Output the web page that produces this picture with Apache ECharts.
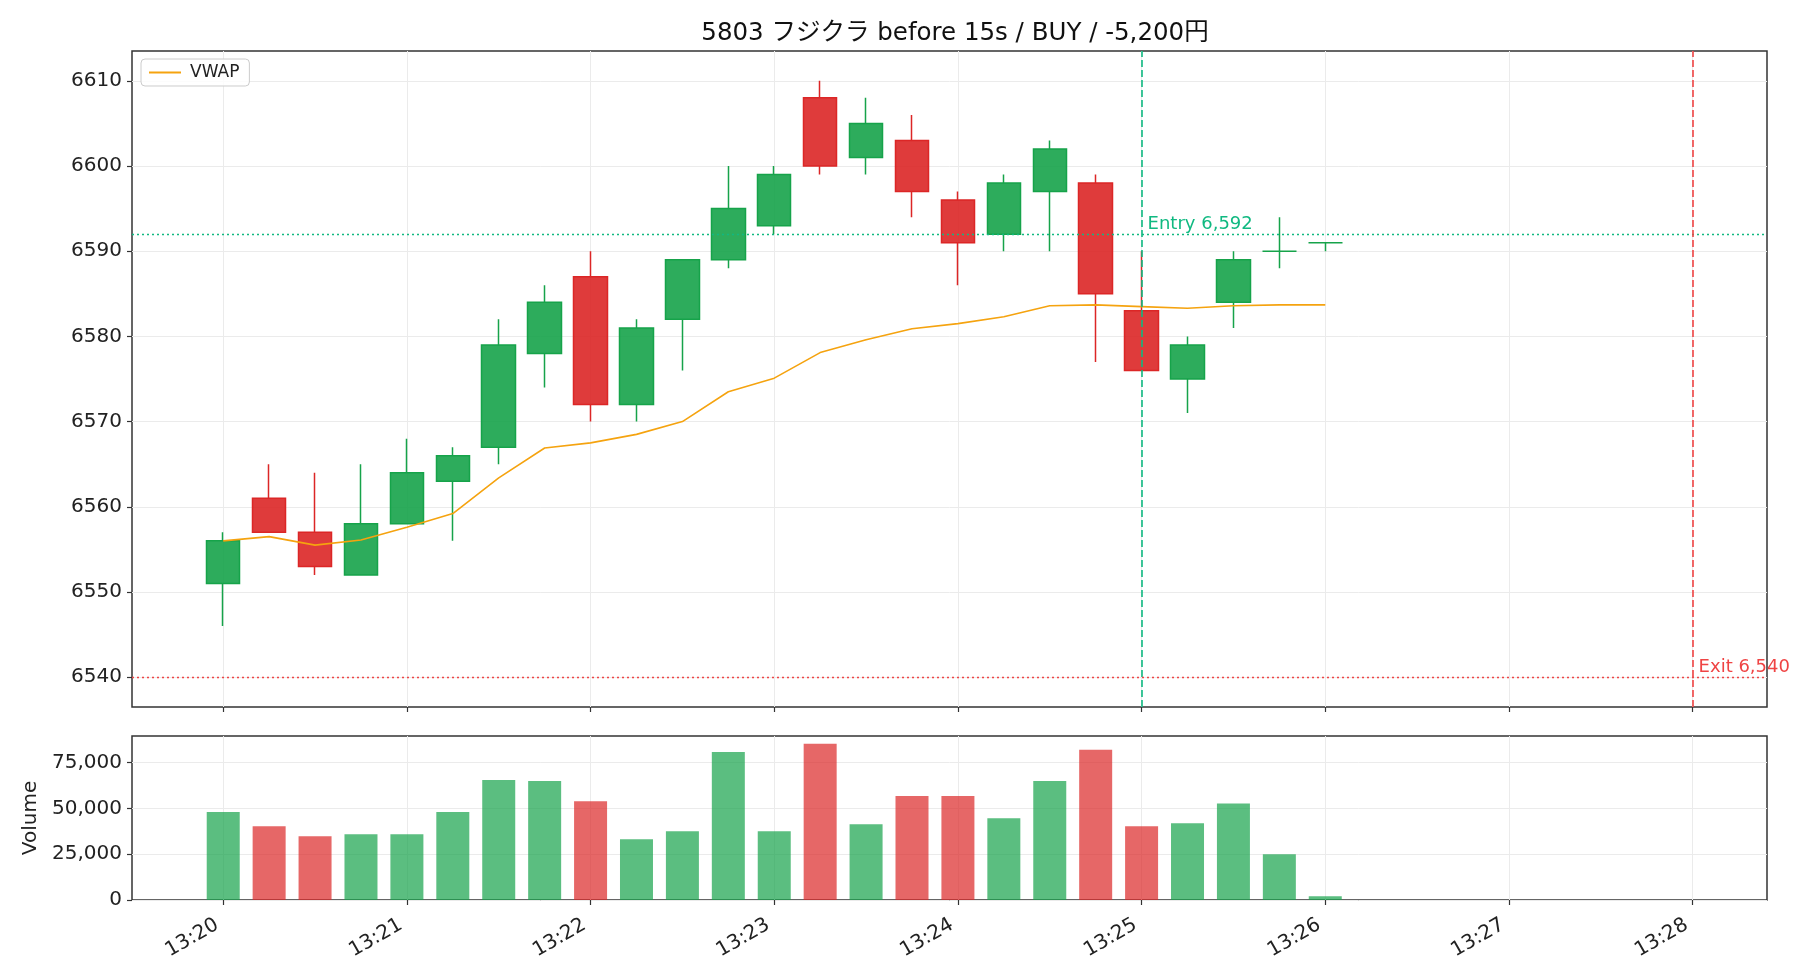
<!DOCTYPE html>
<html>
<head>
<meta charset="utf-8">
<title>5803 フジクラ</title>
<script src="https://cdn.jsdelivr.net/npm/echarts@6/dist/echarts.min.js"></script>
<style>
  html, body { margin: 0; padding: 0; background: #fff; }
  #chart { width: 1820px; height: 980px; }
</style>
</head>
<body>
<div id="chart"></div>
<script>
// 15秒足
var times = ["13:20:00", "13:20:15", "13:20:30", "13:20:45", "13:21:00", "13:21:15", "13:21:30", "13:21:45",
  "13:22:00", "13:22:15", "13:22:30", "13:22:45", "13:23:00", "13:23:15", "13:23:30", "13:23:45",
  "13:24:00", "13:24:15", "13:24:30", "13:24:45", "13:25:00", "13:25:15", "13:25:30", "13:25:45", "13:26:00"];
var open = [6551, 6561, 6557, 6552, 6558, 6563, 6567, 6578, 6587, 6572, 6582, 6589, 6593, 6608, 6601, 6603,
  6596, 6592, 6597, 6598, 6583, 6575, 6584, 6590, 6591];
var close = [6556, 6557, 6553, 6558, 6564, 6566, 6579, 6584, 6572, 6581, 6589, 6595, 6599, 6600, 6605, 6597,
  6591, 6598, 6602, 6585, 6576, 6579, 6589, 6590, 6591];
var low = [6546, 6557, 6552, 6552, 6558, 6556, 6565, 6574, 6570, 6570, 6576, 6588, 6592, 6599, 6599, 6594,
  6586, 6590, 6590, 6577, 6576, 6571, 6581, 6588, 6590];
var high = [6557, 6565, 6564, 6565, 6568, 6567, 6582, 6586, 6590, 6582, 6589, 6600, 6600, 6610, 6608, 6606,
  6597, 6599, 6603, 6599, 6590, 6580, 6590, 6594, 6591];
var vwap = [6556.0, 6556.5, 6555.5, 6556.1, 6557.6, 6559.2, 6563.4, 6566.9, 6567.5, 6568.5, 6570.0, 6573.5,
  6575.1, 6578.1, 6579.6, 6580.9, 6581.5, 6582.3, 6583.6, 6583.7, 6583.5, 6583.3, 6583.6, 6583.7, 6583.7];
var volume = [48000, 40200, 34800, 35900, 35900, 48000, 65500, 64900, 53900, 33100, 37500, 80800, 37500,
  85200, 41300, 56700, 56700, 44600, 64900, 81900, 40200, 41800, 52700, 24900, 2000];

var timeTicks = ["13:20", "13:21", "13:22", "13:23", "13:24", "13:25", "13:26", "13:27", "13:28"];
var priceTicks = [6540, 6550, 6560, 6570, 6580, 6590, 6600, 6610];
var volumeTicks = [0, 25000, 50000, 75000];

var entryTime = "13:25:00", entryPrice = 6592;
var exitTime = "13:28:00", exitPrice = 6540;

var UP = "#16a34a", DOWN = "#dc2626";
var ENTRY = "#10b981", EXIT = "#ef4444";
var FONT = "'DejaVu Sans', 'Noto Sans CJK JP', sans-serif";

// 13:20:00 からの秒数
function sec(t) {
  var p = t.split(":");
  return (+p[0] - 13) * 3600 + (+p[1] - 20) * 60 + (p[2] ? +p[2] : 0);
}
function fmtTime(v) {
  var m = 20 + Math.round(v / 60);
  return "13:" + (m < 10 ? "0" + m : m);
}
function comma(v) {
  return String(v).replace(/\B(?=(\d{3})+(?!\d))/g, ",");
}

var xs = times.map(sec);
var xTickVals = timeTicks.map(sec);
var candles = xs.map(function (x, i) {
  return [x, open[i], close[i], low[i], high[i]];
});
var vwapData = xs.map(function (x, i) { return [x, vwap[i]]; });
var volData = xs.map(function (x, i) {
  var up = close[i] >= open[i];
  return { value: [x, volume[i]], itemStyle: { color: up ? UP : DOWN, opacity: 0.7 } };
});

var gridLine = { show: true, lineStyle: { color: "#ebebeb", width: 1 } };
var tickStyle = { show: true, length: 5, lineStyle: { color: "#333", width: 1.2 } };
var labelStyle = { color: "#222", fontSize: 20, fontFamily: FONT };
var noLine = { show: false, onZero: false };

var myChart = echarts.init(document.getElementById("chart"));
var option = {
  animation: false,
  backgroundColor: "#fff",
  title: {
    text: "5803 フジクラ before 15s / BUY / -5,200円",
    left: 950,
    top: 16,
    textAlign: "center",
    textStyle: { fontSize: 24.5, fontWeight: "normal", color: "#111", fontFamily: FONT },
  },
  legend: {
    left: 141,
    top: 59,
    data: [{ name: "VWAP", icon: "rect" }],
    itemWidth: 32,
    itemHeight: 2,
    itemGap: 10,
    padding: [5, 10, 5, 8],
    backgroundColor: "rgba(255,255,255,0.85)",
    borderColor: "#cccccc",
    borderWidth: 1,
    borderRadius: 4,
    textStyle: { fontSize: 17, color: "#222", fontFamily: FONT, padding: [0, 0, 0, 4] },
  },
  grid: [
    { left: 132, right: 53, top: 51, height: 656, show: true, borderColor: "#333", borderWidth: 1.5, backgroundColor: "transparent" },
    { left: 132, right: 53, top: 736, height: 164, show: true, borderColor: "#333", borderWidth: 1.5, backgroundColor: "transparent" },
  ],
  xAxis: [
    {
      type: "value",
      gridIndex: 0,
      min: -29.8,
      max: 504.3,
      axisLine: noLine,
      axisTick: Object.assign({ customValues: xTickVals }, tickStyle),
      axisLabel: { show: false, customValues: xTickVals },
      splitLine: gridLine,
    },
    {
      type: "value",
      gridIndex: 1,
      min: -29.8,
      max: 504.3,
      axisLine: noLine,
      axisTick: Object.assign({ customValues: xTickVals }, tickStyle),
      axisLabel: Object.assign({ customValues: xTickVals, rotate: 30, margin: 20, padding: [0, 7, 0, 0], formatter: fmtTime }, labelStyle),
      splitLine: gridLine,
    },
  ],
  yAxis: [
    {
      type: "value",
      gridIndex: 0,
      min: 6536.5,
      max: 6613.5,
      axisLine: noLine,
      axisTick: Object.assign({ customValues: priceTicks }, tickStyle),
      axisLabel: Object.assign({ customValues: priceTicks, margin: 10, formatter: function (v) { return String(v); } }, labelStyle),
      splitLine: gridLine,
    },
    {
      type: "value",
      gridIndex: 1,
      min: 0,
      max: 89460,
      name: "Volume",
      nameLocation: "middle",
      nameGap: 91,
      nameTextStyle: { fontSize: 20, color: "#222", fontFamily: FONT },
      axisLine: noLine,
      axisTick: Object.assign({ customValues: volumeTicks }, tickStyle),
      axisLabel: Object.assign({ customValues: volumeTicks, margin: 10, formatter: comma }, labelStyle),
      splitLine: gridLine,
    },
  ],
  series: [
    {
      name: "price",
      type: "candlestick",
      xAxisIndex: 0,
      yAxisIndex: 0,
      data: candles,
      encode: { x: 0, y: [1, 2, 3, 4] },
      barWidth: 34,
      itemStyle: {
        color: "rgba(22,163,74,0.9)",
        color0: "rgba(220,38,38,0.9)",
        borderColor: UP,
        borderColor0: DOWN,
        borderWidth: 1.5,
      },
      markLine: {
        silent: true,
        symbol: ["none", "none"],
        label: { show: false },
        data: [
          { xAxis: sec(entryTime), lineStyle: { color: ENTRY, type: [7, 3], width: 1.6 } },
          { yAxis: entryPrice, lineStyle: { color: ENTRY, type: [2, 3], width: 1.4 } },
          { xAxis: sec(exitTime), lineStyle: { color: EXIT, type: [7, 3], width: 1.6 } },
          { yAxis: exitPrice, lineStyle: { color: EXIT, type: [2, 3], width: 1.4 } },
        ],
      },
      markPoint: {
        silent: true,
        symbol: "circle",
        symbolSize: 0,
        data: [
          {
            coord: [sec(entryTime), entryPrice],
            label: { show: true, position: [6, -19], formatter: "Entry " + comma(entryPrice), color: ENTRY, fontSize: 18, fontFamily: FONT },
          },
          {
            coord: [sec(exitTime), exitPrice],
            label: { show: true, position: [6, -19], formatter: "Exit " + comma(exitPrice), color: EXIT, fontSize: 18, fontFamily: FONT },
          },
        ],
      },
    },
    {
      name: "VWAP",
      type: "line",
      xAxisIndex: 0,
      yAxisIndex: 0,
      data: vwapData,
      symbol: "none",
      color: "#f5a30f",
      lineStyle: { color: "#f5a30f", width: 1.6 },
      z: 3,
    },
    {
      name: "Volume",
      type: "bar",
      xAxisIndex: 1,
      yAxisIndex: 1,
      data: volData,
      barWidth: 33,
    },
  ],
};
myChart.setOption(option);
</script>
</body>
</html>
